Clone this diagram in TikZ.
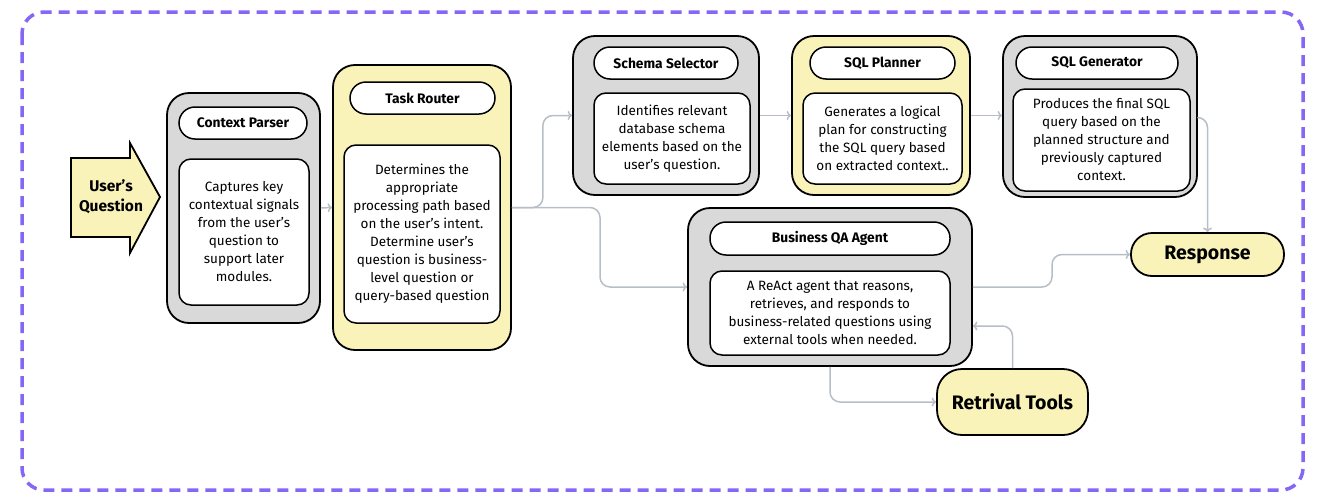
\documentclass[tikz,border=0pt]{standalone}
\usepackage{fontspec}
\setmainfont{Fira Sans}
\usepackage{tikz}
\usetikzlibrary{arrows.meta}

\definecolor{boxgray}{HTML}{D9D9D9}
\definecolor{boxyellow}{HTML}{FAF3B9}
\definecolor{framepurple}{HTML}{8566F5}
\definecolor{linegray}{HTML}{B7BEC6}

\tikzset{
  outer/.style={draw=black, line width=1.8pt, rounded corners=22pt},
  graybox/.style={outer, fill=boxgray},
  yellowbox/.style={outer, fill=boxyellow},
  titlebox/.style={draw=black, line width=1.5pt, fill=white, rounded corners=16pt,
    inner sep=0pt, font=\bfseries\fontsize{13.8}{15}\selectfont},
  bodybox/.style={draw=black, line width=1.5pt, fill=white, rounded corners=12pt,
    inner sep=0pt, align=center, font=\fontsize{13.5}{18}\selectfont},
  endbox/.style={draw=black, line width=1.8pt, fill=boxyellow, inner sep=0pt,
    font=\bfseries\fontsize{19.5}{22}\selectfont},
  link/.style={draw=linegray, line width=1.5pt, ->, rounded corners=10pt},
}

\begin{document}
\begin{tikzpicture}[x=1pt, y=-1pt, >={To[length=4.5pt,width=9pt]}]
        \useasboundingbox (0,0) rectangle (1325,501);
        % dashed frame
        \draw[framepurple, line width=3.5pt, dash pattern=on 11pt off 7pt, rounded corners=22pt]
          (22,12) rectangle (1303,490);
        % input arrow
        \draw[line width=1.8pt, fill=boxyellow] (71,158) -- (130,158) -- (130,143) -- (160,197)
          -- (130,253) -- (130,237) -- (71,237) -- cycle;
        \node[font=\bfseries\fontsize{15.5}{20}\selectfont, align=center] (uq) at (111,197) {User’s\\Question};
        % Context Parser
        \node[graybox, minimum width=153, minimum height=230] (cp) at (243.5,208) {};
        \node[titlebox, minimum width=128, minimum height=32] (cpt) at (243,123) {Context Parser};
        \node[bodybox, minimum width=130, minimum height=146] (cpb) at (244,232)
          {Captures key\\contextual signals\\from the user’s\\question to\\support later\\modules.};
        % Task Router
        \node[yellowbox, minimum width=178, minimum height=285] (tr) at (422,207.5) {};
        \node[titlebox, minimum width=145, minimum height=32] (trt) at (422.5,98) {Task Router};
        \node[bodybox, minimum width=156, minimum height=178] (trb) at (422,234)
          {Determines the\\appropriate\\processing path based\\on the user’s intent.\\Determine user’s\\question is business-\\level question or\\query-based question};
        % Schema Selector
        \node[graybox, minimum width=186, minimum height=159] (ss) at (666,115.5) {};
        \node[titlebox, minimum width=144, minimum height=32] (sst) at (666,63) {Schema Selector};
        \node[bodybox, minimum width=156, minimum height=91] (ssb) at (672,138.5)
          {Identifies relevant\\database schema\\elements based on the\\user’s question.};
        % SQL Planner
        \node[yellowbox, minimum width=178, minimum height=159] (sp) at (881,115.5) {};
        \node[titlebox, minimum width=145, minimum height=32] (spt) at (882.5,63) {SQL Planner};
        \node[bodybox, minimum width=159, minimum height=91] (spb) at (882.5,138.5)
          {Generates a logical\\plan for constructing\\the SQL query based\\on extracted context..};
        % SQL Generator
        \node[graybox, minimum width=194, minimum height=161] (sg) at (1100,116.5) {};
        \node[titlebox, minimum width=162, minimum height=32] (sgt) at (1097,63) {SQL Generator};
        \node[bodybox, minimum width=177, minimum height=102] (sgb) at (1101.5,140)
          {Produces the final SQL\\query based on the\\planned structure and\\previously captured\\context.};
        % Business QA Agent
        \node[graybox, minimum width=284, minimum height=158] (bqa) at (830,287) {};
        \node[titlebox, minimum width=240, minimum height=33] (bqat) at (830,238.5) {Business QA Agent};
        \node[bodybox, minimum width=240, minimum height=84] (bqab) at (830,313)
          {A ReAct agent that reasons,\\retrieves, and responds to\\business-related questions using\\external tools when needed.};
        % outputs
        \node[endbox, rounded corners=21pt, minimum width=153, minimum height=43] (resp) at (1207.5,254.5) {Response};
        \node[endbox, rounded corners=25pt, minimum width=151, minimum height=66] (rt) at (1012.5,402) {Retrival Tools};
        % connectors
        \draw[link] (cp.east) -- (tr.west);
        \draw[link] (tr.east) -- ++(31,0) |- (ss.west);
        \draw[link] (tr.east) -- (600,207.5) |- (bqa.west);
        \draw[link] (ss.east) -- (sp.west);
        \draw[link] (sp.east) -- (sp.east -| sg.west);
        \draw[link] ([yshift=-1pt]sg.east) -| (resp.north);
        \draw[link] (bqa.east) -- (1052,287) |- (resp.west);
        \draw[link] (bqa.south) |- (rt.west);
        \draw[link] (rt.north) |- ([yshift=-39pt]bqa.east);
    \end{tikzpicture}
\end{document}
